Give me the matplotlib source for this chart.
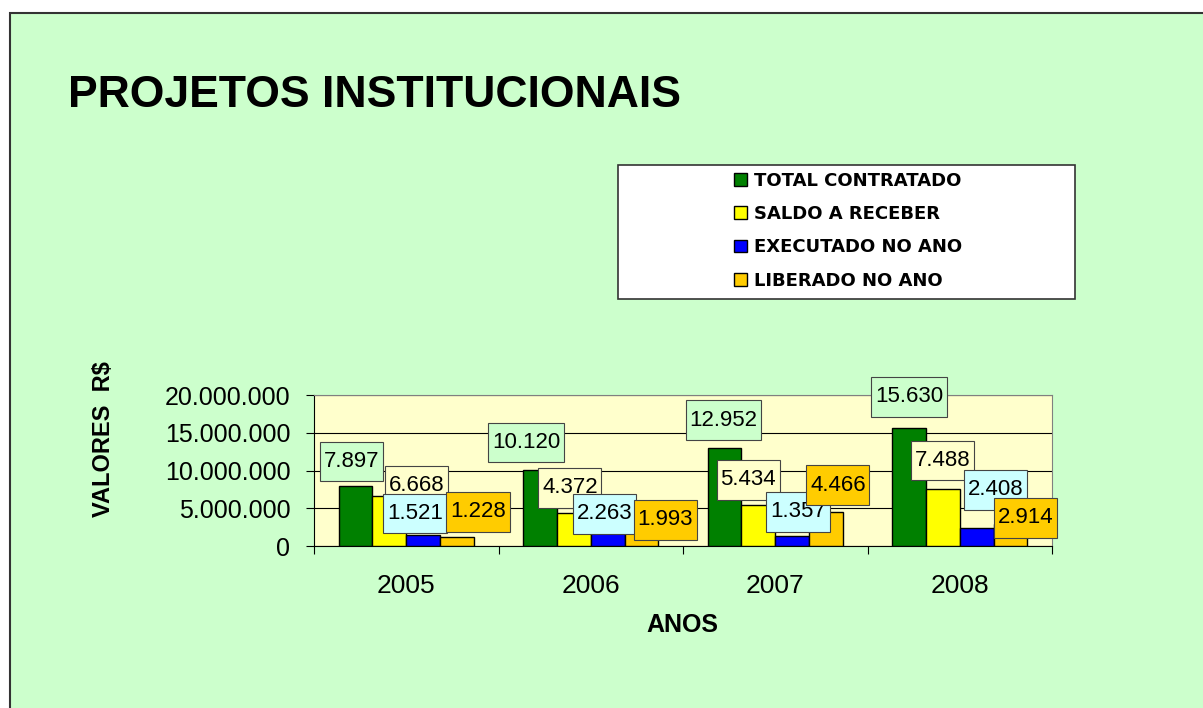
import numpy as np
import matplotlib
matplotlib.use("Agg")
import matplotlib.pyplot as plt
from matplotlib.patches import Rectangle
from matplotlib.path import Path

# data (valores em milhares de R$)
anos = ["2005", "2006", "2007", "2008"]
total_contratado = [7897, 10120, 12952, 15630]
saldo_a_receber = [6668, 4372, 5434, 7488]
executado_no_ano = [1521, 2263, 1357, 2408]
liberado_no_ano = [1228, 1993, 4466, 2914]

series_names = ["TOTAL CONTRATADO", "SALDO A RECEBER", "EXECUTADO NO ANO", "LIBERADO NO ANO"]
series_values = [total_contratado, saldo_a_receber, executado_no_ano, liberado_no_ano]
bar_colors = ["#008000", "#FFFF00", "#0000FF", "#FFCC00"]
label_bg = ["#CCFFCC", "#FFFFCC", "#CCFFFF", "#FFCC00"]

# where Excel left each data label (pixel offset from bar top)
label_offsets = [
    [(-4, 25), (-14, 27), (-1, 28), (0, 31)],
    [(27, 10), (-4, 25), (-10, 25), (0, 29)],
    [(-8, 21), (-3, 15), (6, 24), (19, 38)],
    [(21, 25), (24, 11), (12, 27), (15, 6)],
]

plt.rcParams["font.family"] = ["Liberation Sans", "DejaVu Sans"]


def label_box(x0, y0, width, height, mutation_size):
    # Excel-like data label box: narrow side padding, taller top/bottom
    px = 0.17 * mutation_size
    py = 0.42 * mutation_size
    x0, x1 = x0 - px, x0 + width + px
    y0, y1 = y0 - py, y0 + height + py
    return Path([(x0, y0), (x1, y0), (x1, y1), (x0, y1), (x0, y0)], closed=True)


W, H = 1203, 708
fig = plt.figure(figsize=(W / 100, H / 100), dpi=100)
fig.patch.set_facecolor("white")

# green frame
fig.add_artist(Rectangle((10 / W, -0.05), 1.1, 1 - 13 / H + 0.05, transform=fig.transFigure,
                         facecolor="#CCFFCC", edgecolor="#333333", linewidth=1.5, zorder=0))

fig.text(68 / W, 1 - 107 / H, "PROJETOS INSTITUCIONAIS", fontsize=32, fontweight="bold",
         ha="left", va="baseline")

ax = fig.add_axes([314 / W, 1 - 546 / H, 738 / W, 151 / H])
ax.set_facecolor("#FFFFCC")

x = np.arange(len(anos))
w = 0.183
bars = []
for i, (name, vals) in enumerate(zip(series_names, series_values)):
    b = ax.bar(x + (i - 1.5) * w, np.array(vals) * 1000, width=w, color=bar_colors[i],
               edgecolor="black", linewidth=1, label=name, zorder=3)
    bars.append(b)

for i, vals in enumerate(series_values):
    for j, v in enumerate(vals):
        ax.annotate(f"{v / 1000:.3f}", xy=(x[j] + (i - 1.5) * w, v * 1000),
                    xytext=label_offsets[i][j], textcoords="offset pixels",
                    ha="center", va="center", fontsize=16, zorder=5, annotation_clip=False,
                    bbox=dict(boxstyle=label_box, facecolor=label_bg[i],
                              edgecolor="#444444", linewidth=0.8))

ax.set_xlim(-0.5, 3.5)
ax.set_ylim(0, 20000000)
yt = [0, 5000000, 10000000, 15000000, 20000000]
ax.set_yticks(yt)
ax.set_yticklabels([f"{v:,}".replace(",", ".") for v in yt])
ax.yaxis.grid(True, color="black", linewidth=0.8, zorder=1)
ax.set_axisbelow(True)

ax.set_xticks([-0.5, 0.5, 1.5, 2.5, 3.5])
ax.set_xticklabels([])
ax.set_xticks(x, minor=True)
ax.set_xticklabels(anos, minor=True)
ax.tick_params(axis="x", which="minor", length=0, labelsize=19, pad=20)
ax.tick_params(axis="x", which="major", direction="out", length=6, width=0.8)
ax.tick_params(axis="y", direction="out", length=6, width=0.8, labelsize=18, pad=11)

for s in ["top", "right"]:
    ax.spines[s].set_color("#808080")
for s in ["left", "bottom"]:
    ax.spines[s].set_color("black")

fig.text(682 / W, 1 - 625 / H, "ANOS", fontsize=18, fontweight="bold", ha="center", va="center")
fig.text(104 / W, 1 - 439 / H, "VALORES  R$", fontsize=17, fontweight="bold", rotation=90,
         ha="center", va="center")

# legend box
fig.add_artist(Rectangle((618 / W, 1 - 299 / H), (1075 - 618) / W, (299 - 165) / H,
                         transform=fig.transFigure, facecolor="white", edgecolor="#333333",
                         linewidth=1.2, zorder=1))
leg = fig.legend(handles=bars, labels=series_names, loc="upper left",
                 bbox_to_anchor=(734 / W, 1 - 172 / H), frameon=False,
                 prop=dict(family="DejaVu Sans", weight="bold", size=13),
                 handlelength=0.72, handleheight=0.72, handletextpad=0.39,
                 labelspacing=0.84, borderpad=0, borderaxespad=0)
leg.set_zorder(2)

fig.savefig("out.png", dpi=100)
